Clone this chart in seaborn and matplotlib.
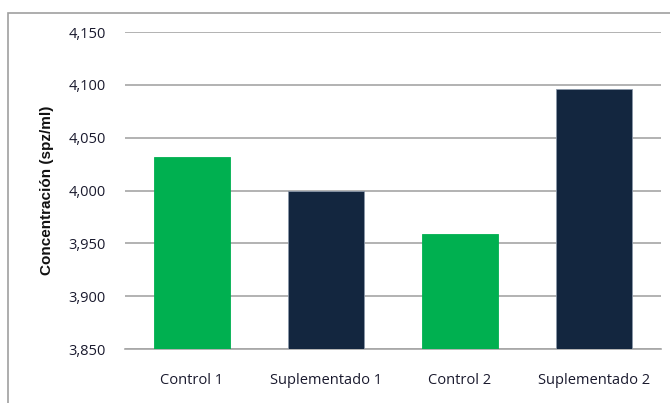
import matplotlib
matplotlib.use("Agg")
import matplotlib.pyplot as plt
import seaborn as sns
import pandas as pd
from matplotlib.patches import Rectangle
from matplotlib.ticker import FuncFormatter

categories = ["Control 1", "Suplementado 1", "Control 2", "Suplementado 2"]
values = [4032, 4000, 3959, 4096]
bar_colors = ["#00B050", "#13263F", "#00B050", "#13263F"]
y_ticks = [3850, 3900, 3950, 4000, 4050, 4100, 4150]
y_label = "Concentración (spz/ml)"

sns.set_theme(style="white")
plt.rcParams['font.family'] = ['Open Sans', 'DejaVu Sans']

df = pd.DataFrame({"cat": categories, "val": values})

fig = plt.figure(figsize=(6.70, 4.03), dpi=100)
ax = fig.add_axes([125/670, 1-349/403, (661-125)/670, (349-32)/403])

sns.barplot(data=df, x="cat", y="val", hue="cat", palette=bar_colors,
            legend=False, width=0.57, ax=ax, saturation=1,
            edgecolor="#5a6a80", linewidth=0.6, zorder=3)
for p, c in zip(ax.patches, bar_colors):
    p.set_edgecolor("#8a97a8" if c != "#00B050" else "#00B050")

ax.set_ylim(3850, 4150)
ax.set_yticks(y_ticks)
ax.yaxis.set_major_formatter(FuncFormatter(lambda v, _: f"{int(v):,}"))
ax.grid(axis="y", color="#a6a6a6", linewidth=1.2, zorder=0)
ax.set_axisbelow(True)
for s in ["top", "right", "left"]:
    ax.spines[s].set_visible(False)
ax.spines["bottom"].set_color("#a6a6a6")
ax.spines["bottom"].set_linewidth(1.2)
ax.tick_params(axis="y", length=0, pad=14, labelsize=10.5, labelcolor="#1a1a2e")
ax.tick_params(axis="x", length=0, pad=17, labelsize=10.5, labelcolor="#1a1a2e")
ax.set_xlabel("")
ax.set_ylabel(y_label, fontsize=11, fontweight="bold", color="#111111",
              family=["Liberation Sans", "DejaVu Sans"], labelpad=10)

fig.patches.append(Rectangle((8/670, -0.1), 2.0, 1 - 13/403 + 0.1,
                             transform=fig.transFigure, fill=False,
                             edgecolor="#a0a0a0", linewidth=1.2))

fig.savefig("out.png", dpi=100)
